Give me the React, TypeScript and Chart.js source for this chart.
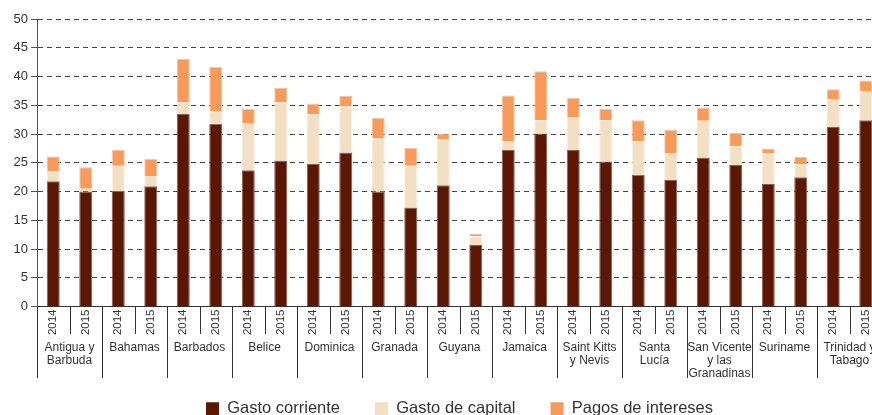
import React, { useEffect, useRef } from "react";
import { Chart, registerables } from "chart.js";

Chart.register(...registerables);

const countries: (string | string[])[] = [
  ["Antigua y", "Barbuda"],
  "Bahamas",
  "Barbados",
  "Belice",
  "Dominica",
  "Granada",
  "Guyana",
  "Jamaica",
  ["Saint Kitts", "y Nevis"],
  ["Santa", "Lucía"],
  ["San Vicente", "y las", "Granadinas"],
  "Suriname",
  ["Trinidad y", "Tabago"],
];

const years = ["2014", "2015"];

// 26 bars: each country 2014, 2015
const gastoCorriente = [
  21.8, 20.0, 20.1, 20.9, 33.5, 31.8, 23.7, 25.4, 24.8, 26.8, 20.0, 17.2, 21.1,
  10.7, 27.2, 30.1, 27.2, 25.2, 22.9, 22.0, 25.9, 24.6, 21.3, 22.5, 31.2, 32.4,
];
const gastoCapital = [
  1.7, 0.5, 4.4, 1.8, 2.0, 2.1, 8.2, 10.1, 8.7, 8.0, 9.2, 7.3, 8.0, 1.5, 1.5,
  2.3, 5.7, 7.2, 5.8, 4.7, 6.4, 3.3, 5.3, 2.3, 4.9, 5.1,
];
const pagosIntereses = [
  2.6, 3.7, 2.7, 3.0, 7.6, 7.8, 2.5, 2.5, 1.7, 1.8, 3.6, 3.1, 1.0, 0.4, 8.0,
  8.5, 3.4, 2.0, 3.7, 4.0, 2.3, 2.3, 0.9, 1.2, 1.7, 1.8,
];

const seriesNames = ["Gasto corriente", "Gasto de capital", "Pagos de intereses"];
const yTicks = { min: 0, max: 50, step: 5 };

const FONT = "'Liberation Sans', Arial, Helvetica, sans-serif";
const TEXT = "#333333";

const separatorPlugin = {
  id: "groupSeparators",
  afterDraw(chart: any) {
    const xs = chart.scales.x;
    const ctx = chart.ctx;
    const top = Math.round(xs.top);
    const n = xs.getLabels().length;
    ctx.save();
    ctx.strokeStyle = "#333333";
    ctx.lineWidth = 1;
    for (let i = 0; i <= n; i++) {
      const px = Math.round(xs.getPixelForValue(i - 0.5)) + 0.5;
      const len = i % 2 === 0 ? 71 : 27;
      ctx.beginPath();
      ctx.moveTo(px, top);
      ctx.lineTo(px, top + len);
      ctx.stroke();
    }
    ctx.restore();
  },
};

export default function App() {
  const ref = useRef<HTMLCanvasElement | null>(null);

  useEffect(() => {
    if (!ref.current) return;
    Chart.defaults.font.family = FONT;
    const barLabels = countries.flatMap(() => years);
    const chart = new Chart(ref.current, {
      type: "bar",
      data: {
        labels: barLabels,
        datasets: [
          {
            label: seriesNames[0],
            data: gastoCorriente,
            backgroundColor: "#5B1604",
            borderColor: "#8E5C50",
            borderWidth: 1,
          },
          {
            label: seriesNames[1],
            data: gastoCapital,
            backgroundColor: "#F3DFC4",
            borderColor: "#F8ECDD",
            borderWidth: 1,
          },
          {
            label: seriesNames[2],
            data: pagosIntereses,
            backgroundColor: "#F79A5A",
            borderColor: "#FAC29C",
            borderWidth: 1,
          },
        ],
      },
      options: {
        animation: false,
        responsive: false,
        layout: { padding: { top: 19, right: 18, bottom: 0, left: 0 } },
        datasets: { bar: { barPercentage: 0.4, categoryPercentage: 1 } },
        plugins: {
          tooltip: { enabled: false },
          legend: {
            position: "bottom",
            fullSize: false,
            labels: {
              boxWidth: 13,
              boxHeight: 13,
              padding: 35,
              color: TEXT,
              font: { size: 16.5, family: FONT },
              generateLabels: (c: any) => {
                const items = (Chart.defaults.plugins.legend.labels as any).generateLabels(c);
                items.forEach((it: any) => {
                  it.lineWidth = 0;
                  it.strokeStyle = it.fillStyle;
                });
                return items;
              },
            },
          },
        },
        scales: {
          x: {
            type: "category",
            position: "bottom",
            stacked: true,
            offset: true,
            weight: 0,
            grid: { display: false, drawTicks: false },
            border: { display: true, color: "#333333", width: 1 },
            ticks: {
              autoSkip: false,
              minRotation: 90,
              maxRotation: 90,
              padding: 3,
              color: TEXT,
              font: { size: 11.5, family: FONT },
            },
            afterFit: (s: any) => {
              s.height = 30;
            },
          },
          x2: {
            type: "category",
            position: "bottom",
            labels: countries as any,
            offset: true,
            weight: 1,
            grid: { display: false, drawTicks: false },
            border: { display: false },
            ticks: {
              autoSkip: false,
              minRotation: 0,
              maxRotation: 0,
              mirror: true,
              padding: -17.7,
              color: TEXT,
              font: { size: 12, family: FONT, lineHeight: 1.1 },
            },
            afterFit: (s: any) => {
              s.height = 29;
            },
          },
          y: {
            stacked: true,
            min: yTicks.min,
            max: yTicks.max,
            ticks: {
              stepSize: yTicks.step,
              padding: 3,
              color: TEXT,
              font: { size: 13, family: FONT },
            },
            grid: {
              color: "#444444",
              lineWidth: 1,
              tickLength: 6,
              tickColor: "#555555",
              tickBorderDash: [],
            },
            border: { display: true, color: "#555555", width: 1, dash: [5, 4] },
            afterFit: (s: any) => {
              s.width = 37;
            },
          },
        },
      } as any,
      plugins: [separatorPlugin],
    });
    return () => chart.destroy();
  }, []);

  return (
    <div
      style={{
        position: "fixed",
        left: 0,
        top: 0,
        width: 872,
        height: 415,
        overflow: "hidden",
        background: "#ffffff",
      }}
    >
      <canvas ref={ref} width={900} height={427} style={{ display: "block" }} />
    </div>
  );
}
